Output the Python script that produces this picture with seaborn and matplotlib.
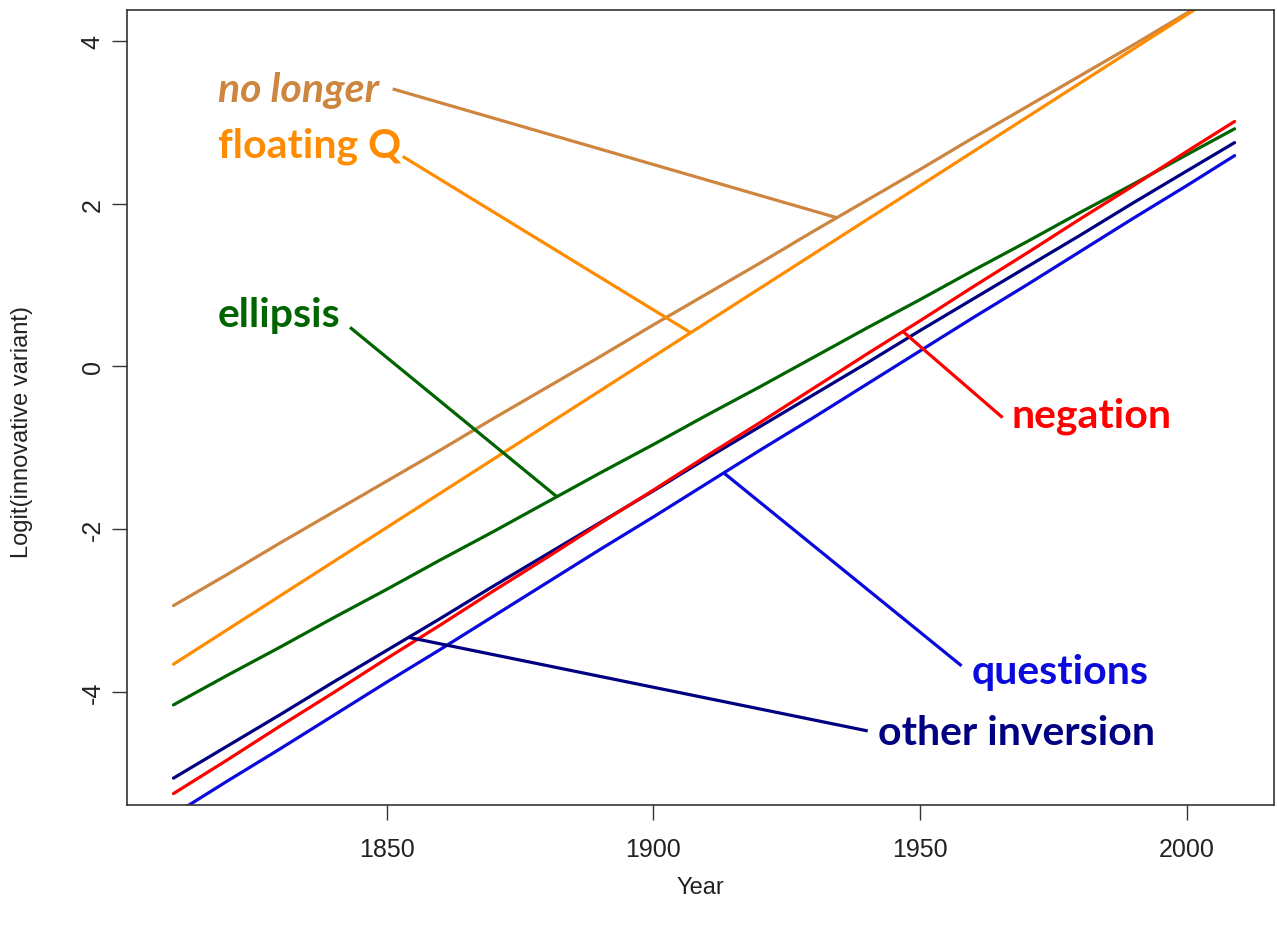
import numpy as np
import pandas as pd
import matplotlib
matplotlib.use("Agg")
import matplotlib.pyplot as plt
import seaborn as sns

# Fitted logit trajectories, read at each decade (plus the final year)
years = [1810, 1820, 1830, 1840, 1850, 1860, 1870, 1880, 1890, 1900, 1910,
         1920, 1930, 1940, 1950, 1960, 1970, 1980, 1990, 2000, 2009]

no_longer = [-2.94, -2.56, -2.17, -1.79, -1.41, -1.03, -0.64, -0.26, 0.12, 0.51, 0.89,
             1.27, 1.66, 2.04, 2.42, 2.81, 3.19, 3.57, 3.95, 4.34, 4.68]
floating_q = [-3.66, -3.24, -2.82, -2.40, -1.98, -1.56, -1.14, -0.72, -0.30, 0.12, 0.54,
              0.96, 1.38, 1.80, 2.22, 2.64, 3.06, 3.48, 3.90, 4.32, 4.70]
ellipsis = [-4.16, -3.80, -3.45, -3.09, -2.74, -2.38, -2.03, -1.67, -1.31, -0.96, -0.60,
            -0.25, 0.11, 0.47, 0.82, 1.18, 1.53, 1.89, 2.24, 2.60, 2.92]
other_inversion = [-5.06, -4.67, -4.28, -3.88, -3.49, -3.10, -2.70, -2.31, -1.92, -1.53, -1.13,
                   -0.74, -0.35, 0.04, 0.44, 0.83, 1.22, 1.61, 2.01, 2.40, 2.75]
negation = [-5.25, -4.84, -4.42, -4.01, -3.59, -3.18, -2.76, -2.35, -1.93, -1.52, -1.10,
            -0.69, -0.27, 0.15, 0.56, 0.98, 1.39, 1.81, 2.22, 2.64, 3.01]
questions = [-5.51, -5.10, -4.70, -4.29, -3.88, -3.48, -3.07, -2.66, -2.25, -1.85, -1.44,
             -1.03, -0.63, -0.22, 0.19, 0.60, 1.00, 1.41, 1.82, 2.22, 2.59]

series_names = ["no longer", "floating Q", "ellipsis", "other inversion", "negation", "questions"]
series_values = [no_longer, floating_q, ellipsis, other_inversion, negation, questions]
series_colors = ["#CD853F", "#FF8C00", "#006400", "#000080", "#FF0000", "#0A0ADC"]

# Label placement: text anchor (year, logit), leader start, and the year on the curve it points to
label_text_pos = [(1818.3, 3.26), (1818.3, 2.58), (1818.3, 0.50), (1942.1, -4.64), (1967.2, -0.74), (1959.7, -3.89)]
leader_start = [(1851.1, 3.41), (1853.0, 2.58), (1843.1, 0.48), (1940.2, -4.48), (1965.5, -0.63), (1957.8, -3.68)]
leader_year = [1934.4, 1907.0, 1881.9, 1854.1, 1946.8, 1913.2]
label_italic = [True, False, False, False, False, False]

df = pd.DataFrame({
    "Year": np.tile(years, len(series_names)),
    "logit": np.concatenate(series_values),
    "construction": np.repeat(series_names, len(years)),
})

sns.set_theme(style="white")
plt.rcParams["font.family"] = ["Liberation Sans", "DejaVu Sans"]

fig = plt.figure(figsize=(12.77, 9.29), dpi=100)
ax = fig.add_axes([0.0995, 0.1324, 0.9977 - 0.0995, 0.9882 - 0.1324])

sns.lineplot(data=df, x="Year", y="logit", hue="construction", hue_order=series_names,
             palette=dict(zip(series_names, series_colors)), linewidth=2.3,
             legend=False, ax=ax)

for name, vals, col, tpos, lstart, lyear, ital in zip(series_names, series_values, series_colors,
                                                    label_text_pos, leader_start, leader_year,
                                                    label_italic):
    y_on_curve = float(np.interp(lyear, years, vals))
    ax.plot([lstart[0], lyear], [lstart[1], y_on_curve], color=col, lw=2.3,
            solid_capstyle="butt")
    ax.text(tpos[0], tpos[1], name, color=col, fontsize=29.5, fontweight="bold",
            fontstyle="italic" if ital else "normal", family=["Lato", "DejaVu Sans"],
            ha="left", va="baseline")

ax.set_xlim(1801.3, 2016.4)
ax.set_ylim(-5.39, 4.38)
ax.set_xticks([1850, 1900, 1950, 2000])
ax.set_yticks([-4, -2, 0, 2, 4])
ax.set_yticklabels(["-4", "-2", "0", "2", "4"], rotation=90, va="center")

for s in ax.spines.values():
    s.set_visible(True)
    s.set_color("#333333")
    s.set_linewidth(1.2)

ax.tick_params(axis="both", which="major", direction="out", length=11, width=1.0,
               color="#333333", labelsize=18, labelcolor="#222222",
               bottom=True, left=True)
ax.tick_params(axis="x", pad=12)
ax.tick_params(axis="y", pad=5)
ax.set_xlabel("Year", fontsize=17, color="#222222", labelpad=11)
ax.set_ylabel("Logit(innovative variant)", fontsize=17, color="#222222", labelpad=18)
ax.yaxis.set_label_coords(-0.082, 0.47)

fig.savefig("out.png", dpi=100)
